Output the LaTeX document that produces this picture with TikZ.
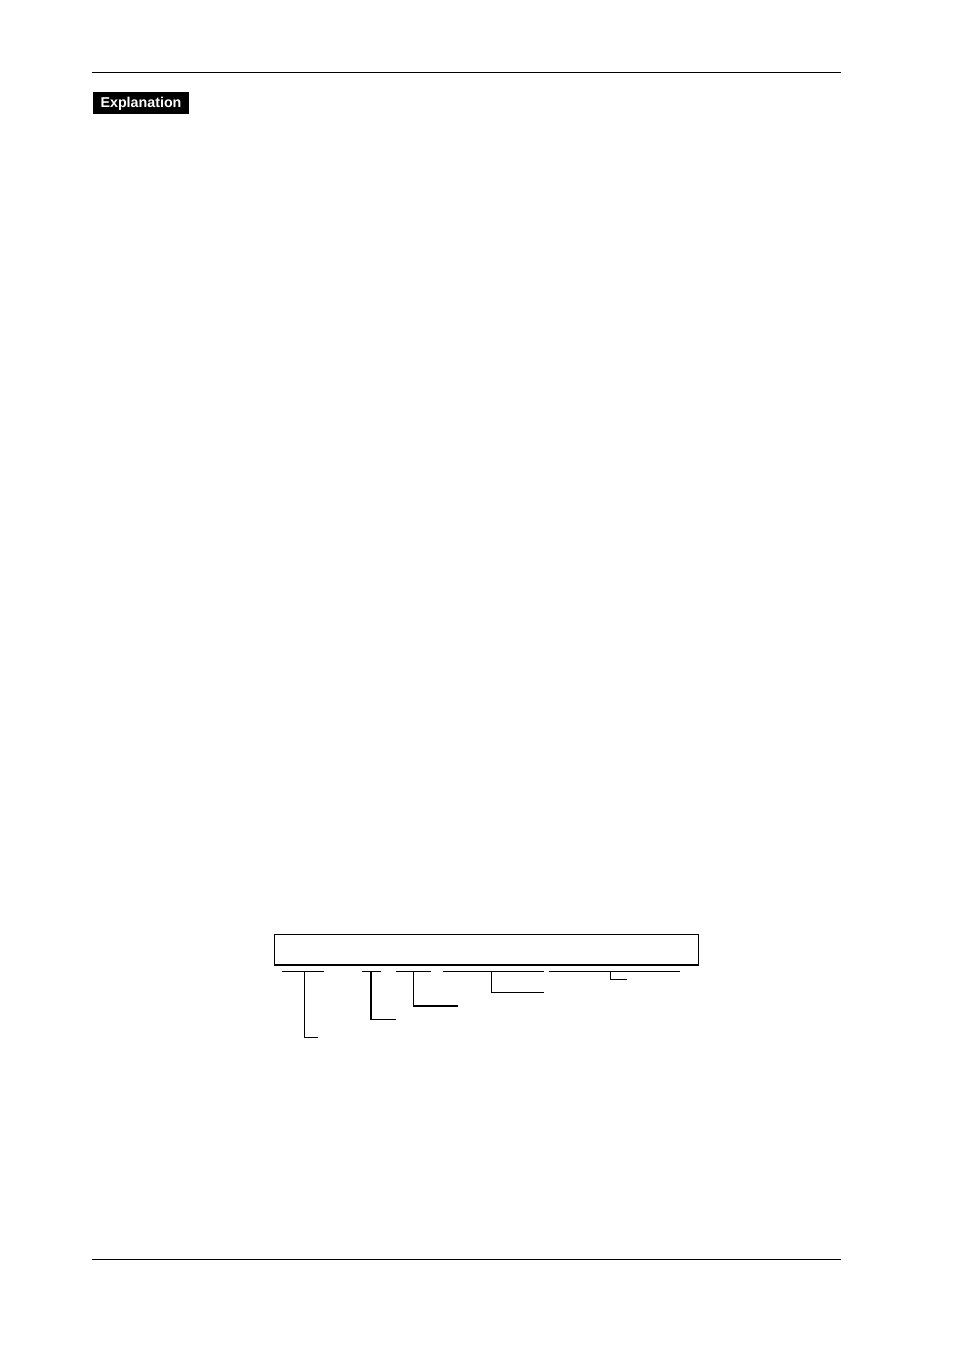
\documentclass[tikz,border=0pt]{standalone}
\usepackage{fontspec}
\setmainfont{Liberation Sans}
\begin{document}
\begin{tikzpicture}[x=0.75pt,y=-0.75pt,
  rule/.style={line width=0.9pt},
  leader/.style={line width=0.9pt},
  tagbox/.style={fill=black,text=white,font=\bfseries\fontsize{10.7}{12}\selectfont,inner sep=0pt,minimum width=96.5*0.75pt,minimum height=21.7*0.75pt,text depth=0pt,text height=6.3pt}]
\useasboundingbox (0,0) rectangle (954,1350);
% page rules
\coordinate (tl) at (91.5,72.3); \coordinate (tr) at (841,72.3);
\coordinate (bl) at (91.5,1259.3); \coordinate (br) at (841,1259.3);
\draw[rule] (tl) -- (tr);
\draw[rule] (bl) -- (br);
% label
\node[tagbox] (expl) at (141,103.2) {Explanation};
% main box
\node[draw,line width=0.9pt,minimum width=424*0.75pt,minimum height=30.3*0.75pt,inner sep=0pt] (box) at (486.3,949.8) {};
% underline segments and leaders
\coordinate (s1a) at (282.3,971.7); \coordinate (s1b) at (323.7,971.7);
\coordinate (s1m) at (304.3,971.7); \coordinate (s1e) at (317.7,1037.7);
\draw[leader] (s1a) -- (s1b);
\draw[leader] (s1m) |- (s1e);
\coordinate (s2a) at (362.3,971.7); \coordinate (s2b) at (380.7,971.7);
\coordinate (s2m) at (371,971.7); \coordinate (s2e) at (396,1019.3);
\draw[leader] (s2a) -- (s2b);
\draw[leader] (s2m) |- (s2e);
\coordinate (s3a) at (396.3,971.7); \coordinate (s3b) at (430.7,971.7);
\coordinate (s3m) at (413.3,971.7); \coordinate (s3e) at (457.7,1006);
\draw[leader] (s3a) -- (s3b);
\draw[leader] (s3m) |- (s3e);
\coordinate (s4a) at (443.3,971.7); \coordinate (s4b) at (543.7,971.7);
\coordinate (s4m) at (491.3,971.7); \coordinate (s4e) at (543.7,992.7);
\draw[leader] (s4a) -- (s4b);
\draw[leader] (s4m) |- (s4e);
\coordinate (s5a) at (548.7,971.7); \coordinate (s5b) at (679.7,971.7);
\coordinate (s5m) at (610.3,971.7); \coordinate (s5e) at (626.7,979.3);
\draw[leader] (s5a) -- (s5b);
\draw[leader] (s5m) |- (s5e);
\end{tikzpicture}
\end{document}
